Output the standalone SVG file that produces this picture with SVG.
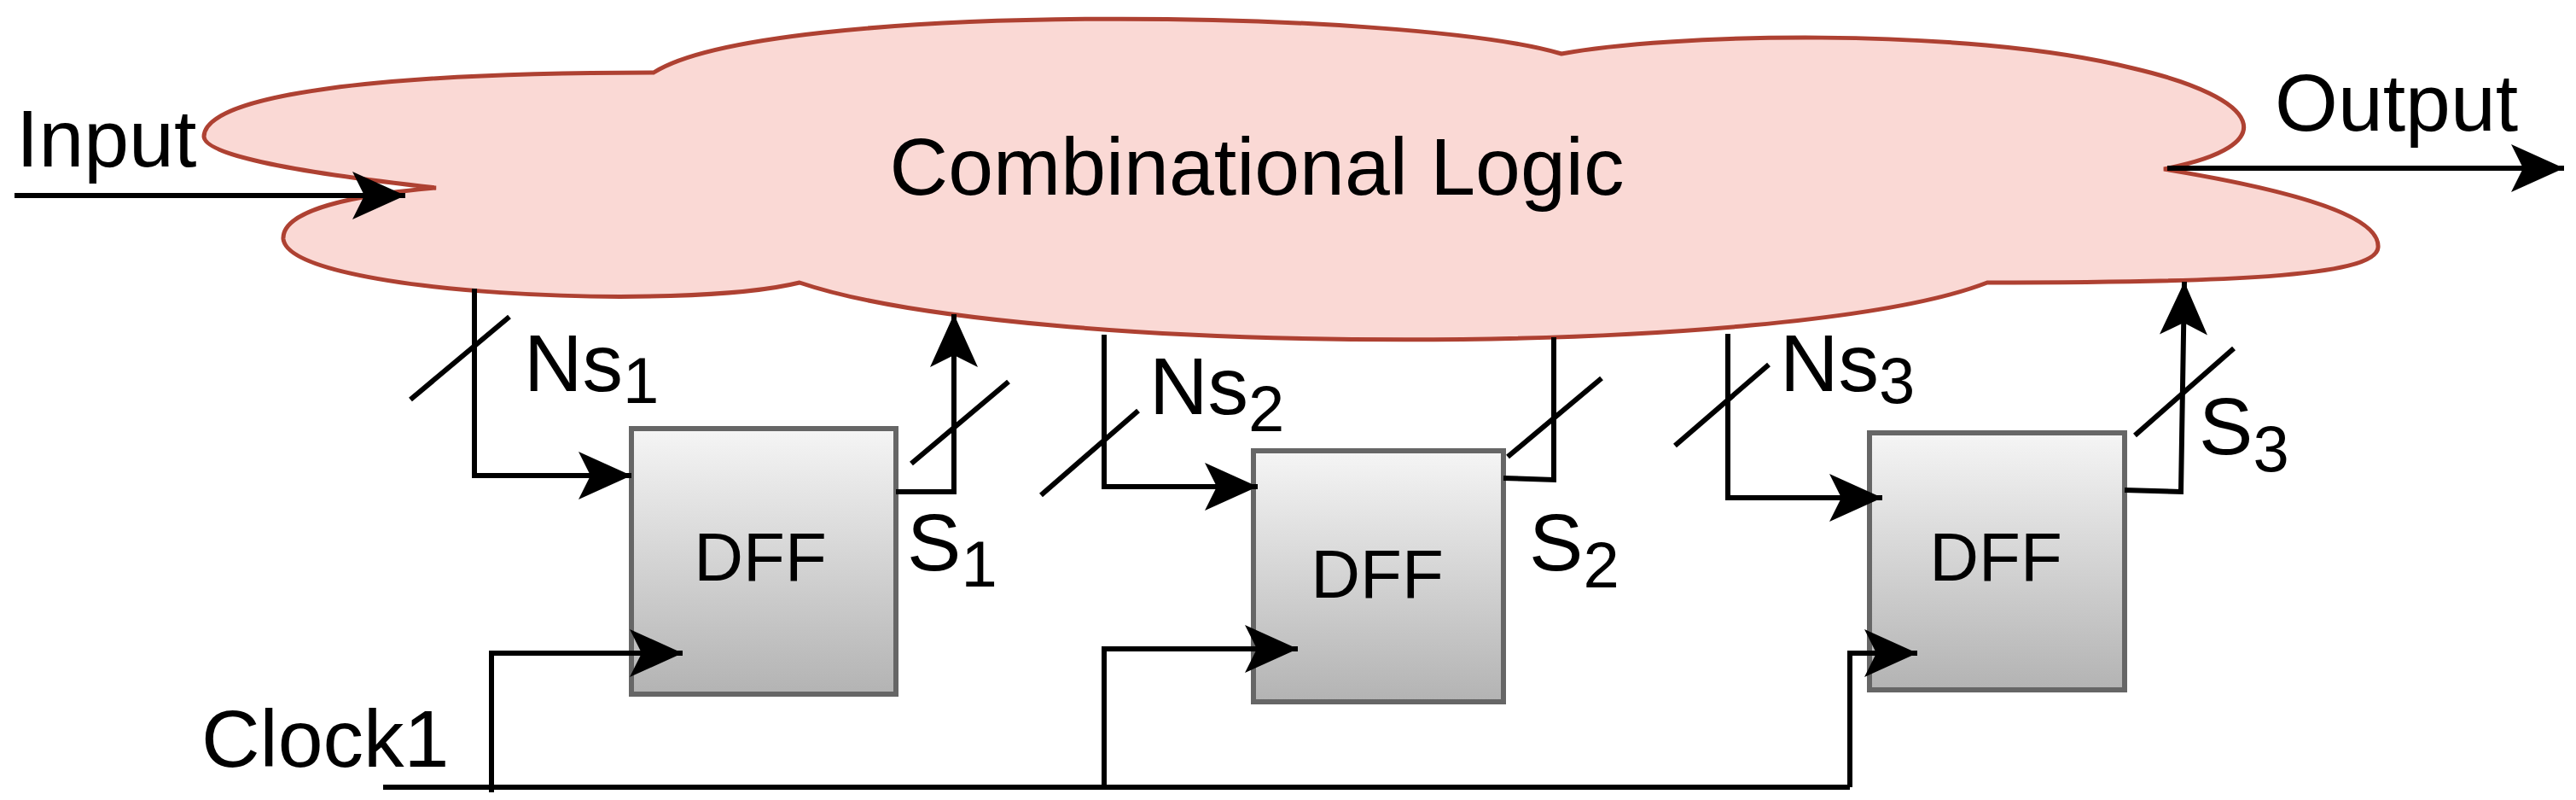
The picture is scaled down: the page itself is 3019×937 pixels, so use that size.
<svg xmlns="http://www.w3.org/2000/svg" width="3019" height="937" viewBox="0 0 3019 937">
<style>
text{font-family:"Liberation Sans",Arial,sans-serif;fill:#000}
.lbl{font-size:95px}
.sub{font-size:76px}
.dff{font-size:80px;text-anchor:middle}
.c{fill:none;stroke:#000;stroke-width:6}
.a{marker-end:url(#arr)}
.box{fill:url(#g);stroke:#666;stroke-width:6}
</style>
<defs>
<linearGradient id="g" x1="0" y1="0" x2="0" y2="1"><stop offset="0" stop-color="#f5f5f5"/><stop offset="1" stop-color="#b3b3b3"/></linearGradient>
<marker id="arr" markerUnits="userSpaceOnUse" viewBox="-65 -35 70 70" refX="0" refY="0" markerWidth="70" markerHeight="70" orient="auto"><path d="M0,0 L-62,-28 L-48,0 L-62,28 Z" fill="#000"/></marker>
</defs>
<g id="cloud">
<path d="M766,85 C900,0 1650,10 1830,63 C1950,40 2300,30 2500,80 C2650,115 2680,170 2536,198 C2700,225 2790,255 2787,290 C2784,325 2600,331 2329,331 C2100,420 1200,420 937,331 C800,365 340,345 332,280 C330,245 420,228 511,220 C330,200 240,180 239,160 C240,110 450,85 766,85 Z" fill="#fad9d5" stroke="#ae4132" stroke-width="5"/>
<text class="lbl" x="1473" y="228" text-anchor="middle">Combinational Logic</text>
</g>
<g id="dff1"><rect class="box" x="740" y="502" width="310" height="311"/><text class="dff" x="891" y="680">DFF</text></g>
<g id="dff2"><rect class="box" x="1469" y="528" width="293" height="294"/><text class="dff" x="1614" y="700">DFF</text></g>
<g id="dff3"><rect class="box" x="2191" y="507" width="299" height="301"/><text class="dff" x="2339" y="680">DFF</text></g>
<g id="connectors">
<line class="c a" x1="17" y1="229" x2="475" y2="229"/>
<line class="c a" x1="2540" y1="197" x2="3005" y2="197"/>
<polyline class="c a" points="556,338 556,557 740,557"/>
<polyline class="c a" points="1050,576 1118,576 1118,368"/>
<polyline class="c a" points="1294,392 1294,570 1474,570"/>
<polyline class="c" points="1762,560 1821,562 1821,395"/>
<polyline class="c a" points="2025,391 2025,583 2206,583"/>
<polyline class="c a" points="2490,574 2556,576 2560,330"/>
<line class="c" x1="449" y1="922" x2="2168" y2="922"/>
<polyline class="c a" points="576,928 576,765 800,765"/>
<polyline class="c a" points="1294,922 1294,760 1521,760"/>
<polyline class="c a" points="2168,922 2168,765 2247,765"/>
<line class="c" x1="481" y1="468" x2="597" y2="371"/>
<line class="c" x1="1068" y1="543" x2="1182" y2="447"/>
<line class="c" x1="1220" y1="580" x2="1334" y2="481"/>
<line class="c" x1="1767" y1="535" x2="1877" y2="443"/>
<line class="c" x1="1963" y1="522" x2="2073" y2="427"/>
<line class="c" x1="2502" y1="510" x2="2618" y2="408"/>
</g>
<g id="labels">
<text class="lbl" x="19" y="195">Input</text>
<text class="lbl" x="2666" y="153">Output</text>
<text class="lbl" x="236" y="898">Clock1</text>
<text class="lbl" x="614" y="458">Ns<tspan class="sub" dy="14">1</tspan></text>
<text class="lbl" x="1347" y="485">Ns<tspan class="sub" dy="20">2</tspan></text>
<text class="lbl" x="2086" y="458">Ns<tspan class="sub" dy="14">3</tspan></text>
<text class="lbl" x="1063" y="668">S<tspan class="sub" dy="19">1</tspan></text>
<text class="lbl" x="1792" y="668">S<tspan class="sub" dy="20">2</tspan></text>
<text class="lbl" x="2577" y="532">S<tspan class="sub" dy="20">3</tspan></text>
</g>
</svg>
